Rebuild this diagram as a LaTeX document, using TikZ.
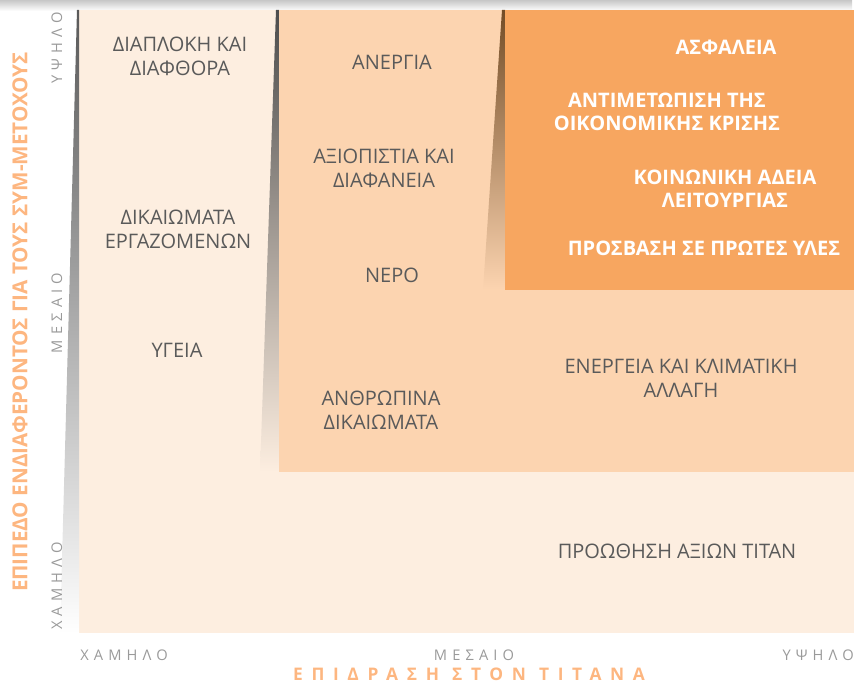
\documentclass[tikz,border=0pt]{standalone}
\usepackage{fontspec}
\setmainfont{Open Sans}
\newfontfamily\tickfont[LetterSpace=35]{Open Sans}
\newfontfamily\titlefont[LetterSpace=50]{Open Sans}
\definecolor{lowzone}{HTML}{FDEEE0}
\definecolor{midzone}{HTML}{FCD4B0}
\definecolor{highzone}{HTML}{F7A660}
\definecolor{issuetext}{HTML}{5A5A5A}
\definecolor{ticktext}{HTML}{9A9A9A}
\definecolor{axistitle}{HTML}{FDB680}
\tikzset{
  issue/.style={align=center, text=issuetext, inner sep=0pt,
    font=\fontsize{15}{18}\selectfont},
  keyissue/.style={align=center, text=white, inner sep=0pt,
    font=\fontsize{15}{17.5}\selectfont\bfseries},
  ticklabel/.style={text=ticktext, inner sep=0pt,
    font=\tickfont\fontsize{11}{12}\selectfont},
  axistitle/.style={text=axistitle, inner sep=0pt}
}
\begin{document}
\begin{tikzpicture}[x=0.75pt, y=-0.75pt]
  \useasboundingbox (0,0) rectangle (866,684);
  % top shadow
  \shade[top color=black!22, bottom color=white] (0,0) rectangle (852,11);
  % zones
  \fill[lowzone] (79,10) rectangle (854,633);
  \shade[top color=black!65, bottom color=white] (79,10) -- (77,10) -- (60,633) -- (79,633) -- cycle;
  \shade[top color=black!70, bottom color=lowzone] (279,10) -- (276,10) -- (260,472) -- (279,472) -- cycle;
  \fill[midzone] (279,10) rectangle (854,472);
  \shade[top color=brown!60!black, bottom color=midzone] (505,10) -- (502,10) -- (483,290) -- (505,290) -- cycle;
  \fill[highzone] (505,10) rectangle (854,290);
  % issues
  \path
    (180,56) node[issue] (corruption) {ΔΙΑΠΛΟΚΗ ΚΑΙ\\ΔΙΑΦΘΟΡΑ}
    (178,229) node[issue] (labour) {ΔΙΚΑΙΩΜΑΤΑ\\ΕΡΓΑΖΟΜΕΝΩΝ}
    (177,350) node[issue] (health) {ΥΓΕΙΑ}
    (392,62) node[issue] (unemployment) {ΑΝΕΡΓΙΑ}
    (384,168) node[issue] (transparency) {ΑΞΙΟΠΙΣΤΙΑ ΚΑΙ\\ΔΙΑΦΑΝΕΙΑ}
    (392,275) node[issue] (water) {ΝΕΡΟ}
    (381,410) node[issue] (humanrights) {ΑΝΘΡΩΠΙΝΑ\\ΔΙΚΑΙΩΜΑΤΑ}
    (681,378) node[issue] (climate) {ΕΝΕΡΓΕΙΑ ΚΑΙ ΚΛΙΜΑΤΙΚΗ\\ΑΛΛΑΓΗ}
    (677,551) node[issue] (values) {ΠΡΟΩΘΗΣΗ ΑΞΙΩΝ ΤΙΤΑΝ};
  \path
    (726,47) node[keyissue] (safety) {ΑΣΦΑΛΕΙΑ}
    (667,112) node[keyissue] (crisis) {ΑΝΤΙΜΕΤΩΠΙΣΗ ΤΗΣ\\ΟΙΚΟΝΟΜΙΚΗΣ ΚΡΙΣΗΣ}
    (725,189) node[keyissue] (licence) {ΚΟΙΝΩΝΙΚΗ ΑΔΕΙΑ\\ΛΕΙΤΟΥΡΓΙΑΣ}
    (704,248) node[keyissue] (materials) {ΠΡΟΣΒΑΣΗ ΣΕ ΠΡΩΤΕΣ ΥΛΕΣ};
  % axes
  \path
    (80,655) node[ticklabel, anchor=west] (xlow) {ΧΑΜΗΛΟ}
    (474,655) node[ticklabel] (xmid) {ΜΕΣΑΙΟ}
    (854,655) node[ticklabel, anchor=east] (xhigh) {ΥΨΗΛΟ}
    (57,12) node[ticklabel, rotate=90, anchor=east] (yhigh) {ΥΨΗΛΟ}
    (57,313) node[ticklabel, rotate=90] (ymid) {ΜΕΣΑΙΟ}
    (57,630) node[ticklabel, rotate=90, anchor=west] (ylow) {ΧΑΜΗΛΟ};
  \path
    (469,674) node[axistitle, font=\titlefont\fontsize{13}{13}\selectfont\bfseries] (xtitle) {ΕΠΙΔΡΑΣΗ ΣΤΟΝ ΤΙΤΑΝΑ}
    (20,322) node[axistitle, rotate=90, font=\fontsize{15.5}{16}\selectfont\bfseries] (ytitle) {ΕΠΙΠΕΔΟ ΕΝΔΙΑΦΕΡΟΝΤΟΣ ΓΙΑ ΤΟΥΣ ΣΥΜ-ΜΕΤΟΧΟΥΣ};
\end{tikzpicture}
\end{document}
